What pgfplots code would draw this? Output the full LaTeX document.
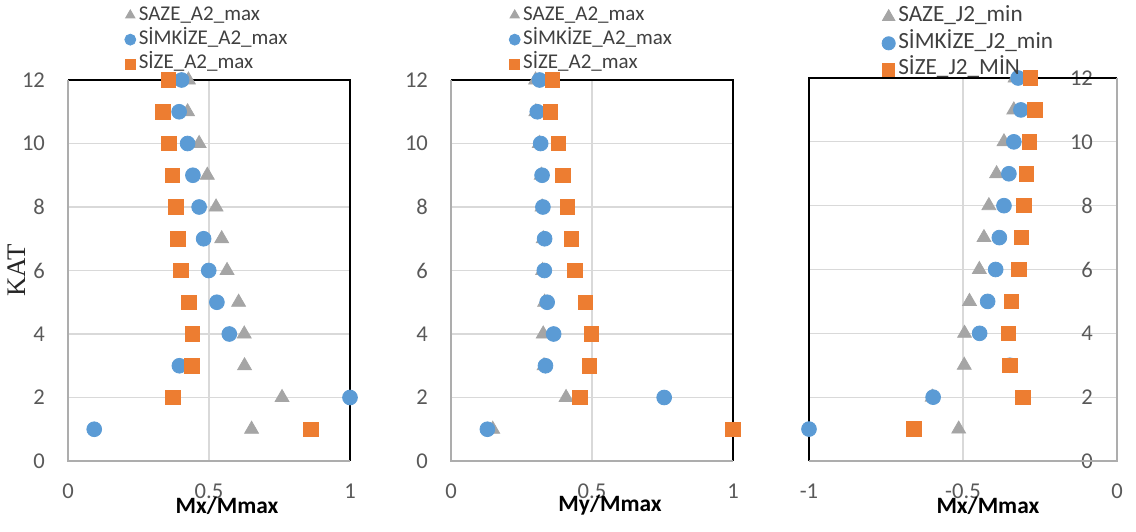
\documentclass[border=0pt]{standalone}
\usepackage{fontspec}
\setmainfont{Carlito}
\newfontfamily\seriffont{Liberation Serif}
\usepackage{pgfplots}
\pgfplotsset{compat=1.18}
\definecolor{cgray}{HTML}{A5A5A5}
\definecolor{cblue}{HTML}{5B9BD5}
\definecolor{corange}{HTML}{ED7D31}
\definecolor{ticktext}{HTML}{595959}
\definecolor{legtext}{HTML}{404040}
\definecolor{gridc}{HTML}{D9D9D9}
\definecolor{axc}{HTML}{ADADAD}

\pgfplotsset{
 panel/.style={
  scale only axis, clip=false, axis line style={draw=none},
  ymin=0, ymax=12, ytick={0,2,...,12},
  major tick length=0pt,
  xmajorgrids, ymajorgrids, major grid style={gridc, line width=0.6pt},
  tick label style={font=\fontsize{11.3}{13}\selectfont, text=ticktext},
  /pgf/number format/assume math mode=true,
  xticklabel style={yshift=-8pt},
  legend style={draw=none, fill=none, font=\fontsize{10.5}{12}\selectfont, text=legtext,
    row sep=0pt, inner sep=0pt, column sep=0pt,
    nodes={inner sep=1.5pt, text height=7pt, text depth=2.2pt},
    cells={anchor=west}},
  legend image code/.code={\draw[##1] plot coordinates {(0pt,0pt)};},
  xlabel style={font=\bfseries\fontsize{11.7}{13}\selectfont, text=black, anchor=center},
 },
 tri/.style={only marks, mark=triangle*, mark size=4pt, color=cgray, legend image post style={mark size=#1}},
 cir/.style={only marks, mark=*, mark size=3.7pt, color=cblue, legend image post style={mark size=#1}},
 sqr/.style={only marks, mark=square*, mark size=3.6pt, color=corange, legend image post style={mark size=#1}},
}

\pgfplotstableread{
y saze simkize size
12 0.427 0.403 0.356
11 0.424 0.394 0.336
10 0.465 0.424 0.358
9 0.494 0.443 0.370
8 0.525 0.465 0.382
7 0.545 0.481 0.390
6 0.564 0.499 0.400
5 0.605 0.528 0.429
4 0.625 0.572 0.442
3 0.626 0.395 0.439
2 0.759 1.000 0.372
1 0.651 0.093 0.861
}\dataA

\pgfplotstableread{
y saze simkize size
12 0.300 0.314 0.360
11 0.301 0.306 0.353
10 0.313 0.318 0.381
9 0.320 0.323 0.397
8 0.323 0.326 0.413
7 0.327 0.332 0.426
6 0.325 0.331 0.440
5 0.332 0.341 0.476
4 0.327 0.364 0.498
3 0.330 0.335 0.490
2 0.408 0.756 0.457
1 0.148 0.129 1.000
}\dataB

\pgfplotstableread{
y saze simkize size
12 -0.331 -0.321 -0.282
11 -0.335 -0.312 -0.266
10 -0.367 -0.335 -0.285
9 -0.391 -0.351 -0.294
8 -0.416 -0.367 -0.302
7 -0.432 -0.382 -0.311
6 -0.447 -0.394 -0.318
5 -0.479 -0.420 -0.343
4 -0.495 -0.446 -0.352
3 -0.496 -0.348 -0.348
2 -0.600 -0.597 -0.306
1 -0.514 -1.000 -0.659
}\dataC

\begin{document}
\begin{tikzpicture}
\useasboundingbox (0,0) rectangle (568pt,265.5pt);

% Panel 1
\begin{axis}[panel, at={(34pt,35pt)}, anchor=south west, width=141pt, height=190.5pt,
  xmin=0, xmax=1, xtick={0,0.5,1},
  yticklabel style={xshift=-8pt},
  ylabel={KAT}, ylabel style={font=\seriffont\fontsize{13.4}{15}\selectfont, text=black!85, at={(axis description cs:-0.181,0.5)}, anchor=center},
  xlabel={Mx/Mmax}, xlabel style={at={(axis description cs:0.564,-0.117)}},
  legend style={at={(axis description cs:0.2,1.203)}, anchor=north west}]
\draw[black, line width=1pt] (rel axis cs:0,1) -- (rel axis cs:1,1) -- (rel axis cs:1,0);
\draw[axc, line width=1pt] (rel axis cs:0,1) -- (rel axis cs:0,0) -- (rel axis cs:1,0);
\addplot[tri=2.7pt] table[x=saze, y=y] {\dataA};
\addlegendentry{SAZE\_A2\_max}
\addplot[cir=2.75pt] table[x=simkize, y=y] {\dataA};
\addlegendentry{SİMKİZE\_A2\_max}
\addplot[sqr=2.5pt] table[x=size, y=y] {\dataA};
\addlegendentry{SİZE\_A2\_max}
\end{axis}

% Panel 2
\begin{axis}[panel, at={(225.5pt,35pt)}, anchor=south west, width=141pt, height=190.5pt,
  xmin=0, xmax=1, xtick={0,0.5,1},
  yticklabel style={xshift=-8pt},
  xlabel={My/Mmax}, xlabel style={at={(axis description cs:0.564,-0.117)}},
  legend style={at={(axis description cs:0.205,1.203)}, anchor=north west}]
\draw[black, line width=1pt] (rel axis cs:0,1) -- (rel axis cs:1,1) -- (rel axis cs:1,0);
\draw[axc, line width=1pt] (rel axis cs:0,1) -- (rel axis cs:0,0) -- (rel axis cs:1,0);
\addplot[tri=2.7pt] table[x=saze, y=y] {\dataB};
\addlegendentry{SAZE\_A2\_max}
\addplot[cir=2.75pt] table[x=simkize, y=y] {\dataB};
\addlegendentry{SİMKİZE\_A2\_max}
\addplot[sqr=2.5pt] table[x=size, y=y] {\dataB};
\addlegendentry{SİZE\_A2\_max}
\end{axis}

% Panel 3
\begin{axis}[panel, at={(404.5pt,35pt)}, anchor=south west, width=154pt, height=191.5pt,
  xmin=-1, xmax=0, xtick={-1,-0.5,0},
  yticklabel pos=right,
  yticklabel style={anchor=east, xshift=-8.5pt},
  xlabel={Mx/Mmax}, xlabel style={at={(axis description cs:0.581,-0.117)}},
  legend style={font=\fontsize{11.6}{13}\selectfont, nodes={text height=7.6pt, text depth=2.6pt}, at={(axis description cs:0.236,1.195)}, anchor=north west}]
\draw[black, line width=1pt] (rel axis cs:0,0) -- (rel axis cs:0,1) -- (rel axis cs:1,1);
\draw[axc, line width=1pt] (rel axis cs:1,1) -- (rel axis cs:1,0) -- (rel axis cs:0,0);
\addplot[tri=3.6pt] table[x=saze, y=y] {\dataC};
\addlegendentry{SAZE\_J2\_min}
\addplot[cir=3.3pt] table[x=simkize, y=y] {\dataC};
\addlegendentry{SİMKİZE\_J2\_min}
\addplot[sqr=3.1pt] table[x=size, y=y] {\dataC};
\addlegendentry{SİZE\_J2\_MİN}
\end{axis}
\end{tikzpicture}
\end{document}
